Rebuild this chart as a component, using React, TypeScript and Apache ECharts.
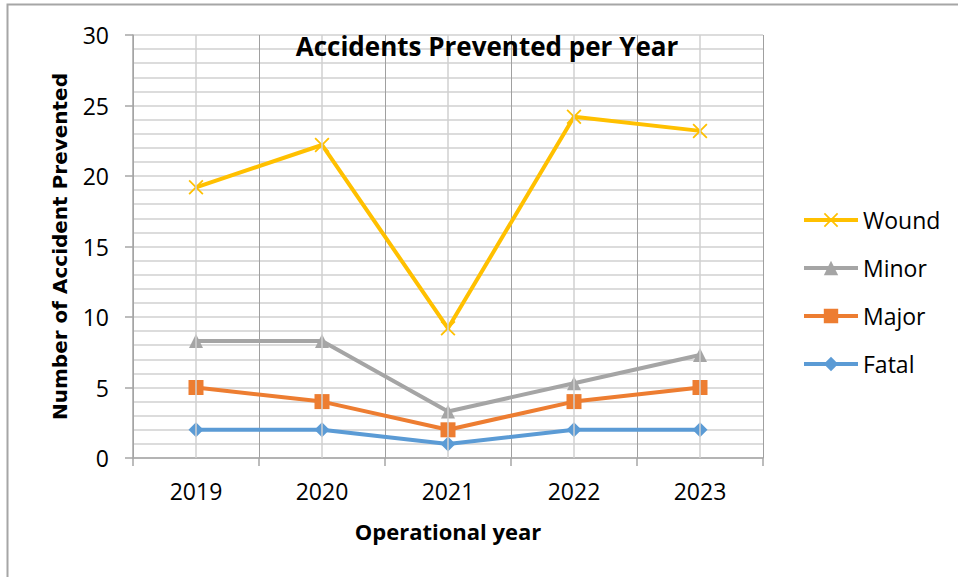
import React, { useEffect, useRef } from "react";
import * as echarts from "echarts";

const years = ["2019", "2020", "2021", "2022", "2023"];
const wound = [19.2, 22.2, 9.2, 24.2, 23.2];
const minor = [8.3, 8.3, 3.3, 5.3, 7.3];
const major = [5, 4, 2, 4, 5];
const fatal = [2, 2, 1, 2, 2];
const legendOrder = ["Wound", "Minor", "Major", "Fatal"];

const FONT = "'Open Sans', sans-serif";
const crossPath =
  "path://M0,1 L1,0 L6,5 L11,0 L12,1 L7,6 L12,11 L11,12 L6,7 L1,12 L0,11 L5,6 Z";

export default function App() {
  const ref = useRef<HTMLDivElement>(null);
  useEffect(() => {
    const chart = echarts.init(ref.current!, null, { renderer: "svg" });
    const lineSeries = (name: string, data: number[], color: string, symbol: string, size: number) => ({
      name,
      type: "line",
      data,
      symbol,
      symbolSize: size,
      showSymbol: true,
      itemStyle: { color },
      lineStyle: { color, width: 4 },
    });
    chart.setOption({
      animation: false,
      backgroundColor: "#ffffff",
      title: {
        text: "Accidents Prevented per Year",
        left: 487,
        top: 32,
        padding: 0,
        textAlign: "center",
        textStyle: { fontFamily: FONT, fontSize: 26, fontWeight: "bold", color: "#000", lineHeight: 28 },
      },
      graphic: [
        {
          type: "rect",
          shape: { x: 7.5, y: 4.5, width: 1000, height: 1000 },
          style: { fill: "none", stroke: "#a6a6a6", lineWidth: 2 },
          silent: true,
        },
      ],
      legend: {
        orient: "vertical",
        left: 802,
        top: 208,
        padding: 0,
        itemWidth: 54,
        itemHeight: 18,
        itemGap: 24,
        data: legendOrder,
        lineStyle: { width: 4 },
        textStyle: { fontFamily: FONT, fontSize: 23, color: "#000", lineHeight: 24 },
      },
      grid: { left: 133, right: 195, top: 35, bottom: 119, containLabel: false },
      xAxis: {
        type: "category",
        data: years,
        boundaryGap: true,
        name: "Operational year",
        nameLocation: "middle",
        nameGap: 62,
        nameTextStyle: { fontFamily: FONT, fontSize: 22, fontWeight: "bold", color: "#000" },
        axisLine: { lineStyle: { color: "#a6a6a6", width: 1.5 } },
        axisTick: { show: true, interval: 0, length: 8, lineStyle: { color: "#a6a6a6", width: 1.5 } },
        axisLabel: { fontFamily: FONT, fontSize: 23, color: "#000", margin: 21 },
        splitLine: { show: true, interval: 0, lineStyle: { color: "#a0a0a0", width: 1 } },
      },
      yAxis: {
        type: "value",
        min: 0,
        max: 30,
        interval: 5,
        name: "Number of Accident Prevented",
        nameLocation: "middle",
        nameGap: 63,
        nameTextStyle: { fontFamily: "'DejaVu Sans', sans-serif", fontSize: 20, fontWeight: "bold", color: "#000" },
        axisLine: { show: true, lineStyle: { color: "#a6a6a6", width: 1.5 } },
        axisTick: { show: true, length: 8, lineStyle: { color: "#a6a6a6", width: 1.5 } },
        axisLabel: { fontFamily: FONT, fontSize: 23, color: "#000", margin: 24 },
        splitLine: { show: true, lineStyle: { color: "#d0d0d0", width: 1.5 } },
        minorTick: { show: false, splitNumber: 5 },
        minorSplitLine: { show: true, lineStyle: { color: "#d0d0d0", width: 1.5 } },
      },
      series: [
        {
          name: "_grid",
          type: "line",
          data: [],
          silent: true,
          markLine: {
            silent: true,
            symbol: "none",
            label: { show: false },
            lineStyle: { color: "#d0d0d0", type: "solid", width: 1.5 },
            data: years.map((y) => ({ xAxis: y })),
          },
        },
        lineSeries("Fatal", fatal, "#5B9BD5", "diamond", 15),
        lineSeries("Major", major, "#ED7D31", "rect", 15),
        lineSeries("Minor", minor, "#A5A5A5", "triangle", 14),
        lineSeries("Wound", wound, "#FFC000", crossPath, 15),
      ],
    });
    return () => chart.dispose();
  }, []);
  return (
    <div
      ref={ref}
      style={{ position: "fixed", left: 0, top: 0, width: 958, height: 577 }}
    />
  );
}
